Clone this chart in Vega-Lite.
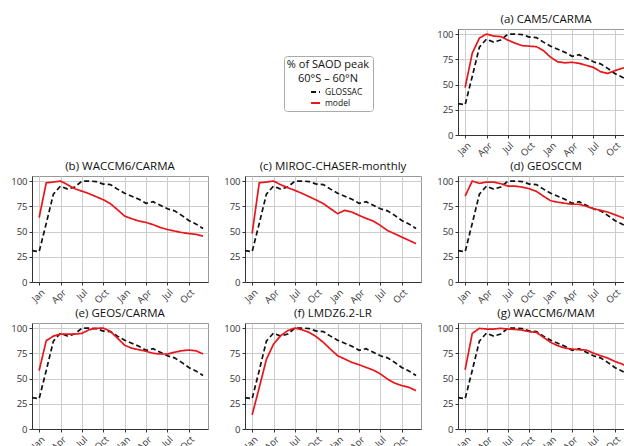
{
"$schema":"https://vega.github.io/schema/vega-lite/v6.json",
"padding":{"left":10,"top":13,"right":0,"bottom":0},
"columns":3,
"spacing":{"row":1,"column":14},
"data":{"values":[
{"panel":"all","series":"GLOSSAC","m":-1,"v":31},{"panel":"all","series":"GLOSSAC","m":0,"v":30},{"panel":"all","series":"GLOSSAC","m":1,"v":58},{"panel":"all","series":"GLOSSAC","m":2,"v":87},{"panel":"all","series":"GLOSSAC","m":3,"v":95},{"panel":"all","series":"GLOSSAC","m":4,"v":92},{"panel":"all","series":"GLOSSAC","m":5,"v":94},{"panel":"all","series":"GLOSSAC","m":6,"v":100},{"panel":"all","series":"GLOSSAC","m":7,"v":100},{"panel":"all","series":"GLOSSAC","m":8,"v":99.5},{"panel":"all","series":"GLOSSAC","m":9,"v":97},{"panel":"all","series":"GLOSSAC","m":10,"v":96.5},{"panel":"all","series":"GLOSSAC","m":11,"v":92},{"panel":"all","series":"GLOSSAC","m":12,"v":88},{"panel":"all","series":"GLOSSAC","m":13,"v":85},{"panel":"all","series":"GLOSSAC","m":14,"v":82},{"panel":"all","series":"GLOSSAC","m":15,"v":78},{"panel":"all","series":"GLOSSAC","m":16,"v":79.5},{"panel":"all","series":"GLOSSAC","m":17,"v":76},{"panel":"all","series":"GLOSSAC","m":18,"v":72.5},{"panel":"all","series":"GLOSSAC","m":19,"v":70.5},{"panel":"all","series":"GLOSSAC","m":20,"v":66},{"panel":"all","series":"GLOSSAC","m":21,"v":61},{"panel":"all","series":"GLOSSAC","m":22,"v":57.5},{"panel":"all","series":"GLOSSAC","m":23,"v":53},
{"panel":"a","series":"model","m":0,"v":47},{"panel":"a","series":"model","m":1,"v":81},{"panel":"a","series":"model","m":2,"v":96},{"panel":"a","series":"model","m":3,"v":100},{"panel":"a","series":"model","m":4,"v":98},{"panel":"a","series":"model","m":5,"v":97.5},{"panel":"a","series":"model","m":6,"v":94},{"panel":"a","series":"model","m":7,"v":91},{"panel":"a","series":"model","m":8,"v":88.5},{"panel":"a","series":"model","m":9,"v":88},{"panel":"a","series":"model","m":10,"v":87.5},{"panel":"a","series":"model","m":11,"v":83.5},{"panel":"a","series":"model","m":12,"v":77},{"panel":"a","series":"model","m":13,"v":72.5},{"panel":"a","series":"model","m":14,"v":71.5},{"panel":"a","series":"model","m":15,"v":72},{"panel":"a","series":"model","m":16,"v":71},{"panel":"a","series":"model","m":17,"v":69},{"panel":"a","series":"model","m":18,"v":67},{"panel":"a","series":"model","m":19,"v":62.7},{"panel":"a","series":"model","m":20,"v":61},{"panel":"a","series":"model","m":21,"v":63.7},{"panel":"a","series":"model","m":22,"v":66},{"panel":"a","series":"model","m":23,"v":67.7},
{"panel":"b","series":"model","m":0,"v":63.7},{"panel":"b","series":"model","m":1,"v":98.3},{"panel":"b","series":"model","m":2,"v":99},{"panel":"b","series":"model","m":3,"v":100},{"panel":"b","series":"model","m":4,"v":96.4},{"panel":"b","series":"model","m":5,"v":92.4},{"panel":"b","series":"model","m":6,"v":90},{"panel":"b","series":"model","m":7,"v":87.5},{"panel":"b","series":"model","m":8,"v":84.5},{"panel":"b","series":"model","m":9,"v":81.5},{"panel":"b","series":"model","m":10,"v":77.6},{"panel":"b","series":"model","m":11,"v":71.6},{"panel":"b","series":"model","m":12,"v":65.3},{"panel":"b","series":"model","m":13,"v":62.7},{"panel":"b","series":"model","m":14,"v":60.4},{"panel":"b","series":"model","m":15,"v":59},{"panel":"b","series":"model","m":16,"v":56.8},{"panel":"b","series":"model","m":17,"v":54},{"panel":"b","series":"model","m":18,"v":52},{"panel":"b","series":"model","m":19,"v":50.5},{"panel":"b","series":"model","m":20,"v":49},{"panel":"b","series":"model","m":21,"v":48},{"panel":"b","series":"model","m":22,"v":47.2},{"panel":"b","series":"model","m":23,"v":45.5},
{"panel":"c","series":"model","m":0,"v":48},{"panel":"c","series":"model","m":1,"v":98.3},{"panel":"c","series":"model","m":2,"v":99},{"panel":"c","series":"model","m":3,"v":100},{"panel":"c","series":"model","m":4,"v":96.4},{"panel":"c","series":"model","m":5,"v":93.4},{"panel":"c","series":"model","m":6,"v":90.8},{"panel":"c","series":"model","m":7,"v":87.8},{"panel":"c","series":"model","m":8,"v":84.5},{"panel":"c","series":"model","m":9,"v":81.2},{"panel":"c","series":"model","m":10,"v":77.6},{"panel":"c","series":"model","m":11,"v":72.6},{"panel":"c","series":"model","m":12,"v":67.7},{"panel":"c","series":"model","m":13,"v":71},{"panel":"c","series":"model","m":14,"v":69.3},{"panel":"c","series":"model","m":15,"v":66},{"panel":"c","series":"model","m":16,"v":63},{"panel":"c","series":"model","m":17,"v":60.4},{"panel":"c","series":"model","m":18,"v":56},{"panel":"c","series":"model","m":19,"v":51},{"panel":"c","series":"model","m":20,"v":47.8},{"panel":"c","series":"model","m":21,"v":44.5},{"panel":"c","series":"model","m":22,"v":41.3},{"panel":"c","series":"model","m":23,"v":38},
{"panel":"d","series":"model","m":0,"v":85},{"panel":"d","series":"model","m":1,"v":100},{"panel":"d","series":"model","m":2,"v":97.7},{"panel":"d","series":"model","m":3,"v":99},{"panel":"d","series":"model","m":4,"v":99},{"panel":"d","series":"model","m":5,"v":97.4},{"panel":"d","series":"model","m":6,"v":95},{"panel":"d","series":"model","m":7,"v":95},{"panel":"d","series":"model","m":8,"v":94},{"panel":"d","series":"model","m":9,"v":92.4},{"panel":"d","series":"model","m":10,"v":89.8},{"panel":"d","series":"model","m":11,"v":85},{"panel":"d","series":"model","m":12,"v":80.5},{"panel":"d","series":"model","m":13,"v":79},{"panel":"d","series":"model","m":14,"v":78},{"panel":"d","series":"model","m":15,"v":77},{"panel":"d","series":"model","m":16,"v":77},{"panel":"d","series":"model","m":17,"v":75},{"panel":"d","series":"model","m":18,"v":72.6},{"panel":"d","series":"model","m":19,"v":71},{"panel":"d","series":"model","m":20,"v":69.3},{"panel":"d","series":"model","m":21,"v":66.7},{"panel":"d","series":"model","m":22,"v":64},{"panel":"d","series":"model","m":23,"v":61},
{"panel":"e","series":"model","m":0,"v":57.8},{"panel":"e","series":"model","m":1,"v":87.5},{"panel":"e","series":"model","m":2,"v":92},{"panel":"e","series":"model","m":3,"v":94},{"panel":"e","series":"model","m":4,"v":94},{"panel":"e","series":"model","m":5,"v":94},{"panel":"e","series":"model","m":6,"v":94.7},{"panel":"e","series":"model","m":7,"v":98.3},{"panel":"e","series":"model","m":8,"v":99.7},{"panel":"e","series":"model","m":9,"v":100},{"panel":"e","series":"model","m":10,"v":96.7},{"panel":"e","series":"model","m":11,"v":90},{"panel":"e","series":"model","m":12,"v":83},{"panel":"e","series":"model","m":13,"v":80},{"panel":"e","series":"model","m":14,"v":78.5},{"panel":"e","series":"model","m":15,"v":77},{"panel":"e","series":"model","m":16,"v":75},{"panel":"e","series":"model","m":17,"v":74.3},{"panel":"e","series":"model","m":18,"v":74.3},{"panel":"e","series":"model","m":19,"v":76},{"panel":"e","series":"model","m":20,"v":77.5},{"panel":"e","series":"model","m":21,"v":78.2},{"panel":"e","series":"model","m":22,"v":77.5},{"panel":"e","series":"model","m":23,"v":74.3},
{"panel":"f","series":"model","m":0,"v":14},{"panel":"f","series":"model","m":1,"v":41},{"panel":"f","series":"model","m":2,"v":69},{"panel":"f","series":"model","m":3,"v":84},{"panel":"f","series":"model","m":4,"v":92.4},{"panel":"f","series":"model","m":5,"v":97.4},{"panel":"f","series":"model","m":6,"v":100},{"panel":"f","series":"model","m":7,"v":98.3},{"panel":"f","series":"model","m":8,"v":95.7},{"panel":"f","series":"model","m":9,"v":91.4},{"panel":"f","series":"model","m":10,"v":85.8},{"panel":"f","series":"model","m":11,"v":79},{"panel":"f","series":"model","m":12,"v":72.6},{"panel":"f","series":"model","m":13,"v":69.3},{"panel":"f","series":"model","m":14,"v":66},{"panel":"f","series":"model","m":15,"v":63.7},{"panel":"f","series":"model","m":16,"v":61},{"panel":"f","series":"model","m":17,"v":58.4},{"panel":"f","series":"model","m":18,"v":54.5},{"panel":"f","series":"model","m":19,"v":49.5},{"panel":"f","series":"model","m":20,"v":45.5},{"panel":"f","series":"model","m":21,"v":43},{"panel":"f","series":"model","m":22,"v":41.3},{"panel":"f","series":"model","m":23,"v":38},
{"panel":"g","series":"model","m":0,"v":58.7},{"panel":"g","series":"model","m":1,"v":94.7},{"panel":"g","series":"model","m":2,"v":99.7},{"panel":"g","series":"model","m":3,"v":99},{"panel":"g","series":"model","m":4,"v":99},{"panel":"g","series":"model","m":5,"v":99.7},{"panel":"g","series":"model","m":6,"v":99},{"panel":"g","series":"model","m":7,"v":98.7},{"panel":"g","series":"model","m":8,"v":98},{"panel":"g","series":"model","m":9,"v":96.4},{"panel":"g","series":"model","m":10,"v":95.7},{"panel":"g","series":"model","m":11,"v":90.8},{"panel":"g","series":"model","m":12,"v":85.8},{"panel":"g","series":"model","m":13,"v":82.5},{"panel":"g","series":"model","m":14,"v":80.2},{"panel":"g","series":"model","m":15,"v":79.2},{"panel":"g","series":"model","m":16,"v":78.5},{"panel":"g","series":"model","m":17,"v":78.2},{"panel":"g","series":"model","m":18,"v":75.2},{"panel":"g","series":"model","m":19,"v":72.6},{"panel":"g","series":"model","m":20,"v":70.3},{"panel":"g","series":"model","m":21,"v":67},{"panel":"g","series":"model","m":22,"v":64.4},{"panel":"g","series":"model","m":23,"v":61}
]},
"concat":[
{"width":176,"height":106,"view":{"stroke":null},"data":{"values":[]},"mark":"point"},
{"width":176,"height":106,"view":{"stroke":null},"data":{"values":[]},"mark":"line",
 "encoding":{
  "x":{"field":"m","type":"quantitative","axis":null},
  "y":{"field":"v","type":"quantitative","axis":null},
  "color":{"field":"series","type":"nominal","scale":{"domain":["GLOSSAC","model"],"range":["#111111","#e8161b"]},
   "legend":{"title":["% of SAOD peak","60°S – 60°N"],"orient":"none","legendX":252,"legendY":27,"symbolType":"stroke","symbolSize":80,"symbolStrokeWidth":1.8,"symbolOffset":16,"titleAnchor":"middle","titleAlign":"center","titleFontSize":11,"titleFontWeight":"normal","titleLineHeight":13.5,"titlePadding":3,"labelFontSize":8.5,"rowPadding":1,"padding":3,"strokeColor":"#aaaaaa","cornerRadius":3,"fillColor":"white","offset":0}},
  "strokeDash":{"field":"series","type":"nominal","scale":{"domain":["GLOSSAC","model"],"range":[[5,3],[1,0]]},
   "legend":{"title":["% of SAOD peak","60°S – 60°N"],"orient":"none","legendX":252,"legendY":27,"symbolType":"stroke","symbolSize":80,"symbolStrokeWidth":1.8,"symbolOffset":16,"titleAnchor":"middle","titleAlign":"center","titleFontSize":11,"titleFontWeight":"normal","titleLineHeight":13.5,"titlePadding":3,"labelFontSize":8.5,"rowPadding":1,"padding":3,"strokeColor":"#aaaaaa","cornerRadius":3,"fillColor":"white","offset":0}}
 }},
{"title":"(a) CAM5/CARMA","width":176,"height":106,"transform":[{"filter":"datum.series=='GLOSSAC' || datum.panel=='a'"}],"mark":{"type":"line","strokeWidth":1.7},
 "encoding":{"x":{"field":"m","type":"quantitative","scale":{"domain":[-1,23.7],"nice":false,"zero":false},"axis":{"values":[0,3,6,9,12,15,18,21],"labelExpr":"['Jan','Apr','Jul','Oct'][round(datum.value/3)%4]","labelAngle":-45}},
  "y":{"field":"v","type":"quantitative","scale":{"domain":[0,105],"nice":false},"axis":{"values":[0,25,50,75,100]}},
  "color":{"field":"series","type":"nominal","scale":{"domain":["GLOSSAC","model"],"range":["#111111","#e8161b"]},"legend":null},
  "strokeDash":{"field":"series","type":"nominal","scale":{"domain":["GLOSSAC","model"],"range":[[5,3],[1,0]]},"legend":null}}},
{"title":"(b) WACCM6/CARMA","width":176,"height":106,"transform":[{"filter":"datum.series=='GLOSSAC' || datum.panel=='b'"}],"mark":{"type":"line","strokeWidth":1.7},
 "encoding":{"x":{"field":"m","type":"quantitative","scale":{"domain":[-1,23.7],"nice":false,"zero":false},"axis":{"values":[0,3,6,9,12,15,18,21],"labelExpr":"['Jan','Apr','Jul','Oct'][round(datum.value/3)%4]","labelAngle":-45}},
  "y":{"field":"v","type":"quantitative","scale":{"domain":[0,105],"nice":false},"axis":{"values":[0,25,50,75,100]}},
  "color":{"field":"series","type":"nominal","scale":{"domain":["GLOSSAC","model"],"range":["#111111","#e8161b"]},"legend":null},
  "strokeDash":{"field":"series","type":"nominal","scale":{"domain":["GLOSSAC","model"],"range":[[5,3],[1,0]]},"legend":null}}},
{"title":"(c) MIROC-CHASER-monthly","width":176,"height":106,"transform":[{"filter":"datum.series=='GLOSSAC' || datum.panel=='c'"}],"mark":{"type":"line","strokeWidth":1.7},
 "encoding":{"x":{"field":"m","type":"quantitative","scale":{"domain":[-1,23.7],"nice":false,"zero":false},"axis":{"values":[0,3,6,9,12,15,18,21],"labelExpr":"['Jan','Apr','Jul','Oct'][round(datum.value/3)%4]","labelAngle":-45}},
  "y":{"field":"v","type":"quantitative","scale":{"domain":[0,105],"nice":false},"axis":{"values":[0,25,50,75,100]}},
  "color":{"field":"series","type":"nominal","scale":{"domain":["GLOSSAC","model"],"range":["#111111","#e8161b"]},"legend":null},
  "strokeDash":{"field":"series","type":"nominal","scale":{"domain":["GLOSSAC","model"],"range":[[5,3],[1,0]]},"legend":null}}},
{"title":"(d) GEOSCCM","width":176,"height":106,"transform":[{"filter":"datum.series=='GLOSSAC' || datum.panel=='d'"}],"mark":{"type":"line","strokeWidth":1.7},
 "encoding":{"x":{"field":"m","type":"quantitative","scale":{"domain":[-1,23.7],"nice":false,"zero":false},"axis":{"values":[0,3,6,9,12,15,18,21],"labelExpr":"['Jan','Apr','Jul','Oct'][round(datum.value/3)%4]","labelAngle":-45}},
  "y":{"field":"v","type":"quantitative","scale":{"domain":[0,105],"nice":false},"axis":{"values":[0,25,50,75,100]}},
  "color":{"field":"series","type":"nominal","scale":{"domain":["GLOSSAC","model"],"range":["#111111","#e8161b"]},"legend":null},
  "strokeDash":{"field":"series","type":"nominal","scale":{"domain":["GLOSSAC","model"],"range":[[5,3],[1,0]]},"legend":null}}},
{"title":"(e) GEOS/CARMA","width":176,"height":106,"transform":[{"filter":"datum.series=='GLOSSAC' || datum.panel=='e'"}],"mark":{"type":"line","strokeWidth":1.7},
 "encoding":{"x":{"field":"m","type":"quantitative","scale":{"domain":[-1,23.7],"nice":false,"zero":false},"axis":{"values":[0,3,6,9,12,15,18,21],"labelExpr":"['Jan','Apr','Jul','Oct'][round(datum.value/3)%4]","labelAngle":-45}},
  "y":{"field":"v","type":"quantitative","scale":{"domain":[0,105],"nice":false},"axis":{"values":[0,25,50,75,100]}},
  "color":{"field":"series","type":"nominal","scale":{"domain":["GLOSSAC","model"],"range":["#111111","#e8161b"]},"legend":null},
  "strokeDash":{"field":"series","type":"nominal","scale":{"domain":["GLOSSAC","model"],"range":[[5,3],[1,0]]},"legend":null}}},
{"title":"(f) LMDZ6.2-LR","width":176,"height":106,"transform":[{"filter":"datum.series=='GLOSSAC' || datum.panel=='f'"}],"mark":{"type":"line","strokeWidth":1.7},
 "encoding":{"x":{"field":"m","type":"quantitative","scale":{"domain":[-1,23.7],"nice":false,"zero":false},"axis":{"values":[0,3,6,9,12,15,18,21],"labelExpr":"['Jan','Apr','Jul','Oct'][round(datum.value/3)%4]","labelAngle":-45}},
  "y":{"field":"v","type":"quantitative","scale":{"domain":[0,105],"nice":false},"axis":{"values":[0,25,50,75,100]}},
  "color":{"field":"series","type":"nominal","scale":{"domain":["GLOSSAC","model"],"range":["#111111","#e8161b"]},"legend":null},
  "strokeDash":{"field":"series","type":"nominal","scale":{"domain":["GLOSSAC","model"],"range":[[5,3],[1,0]]},"legend":null}}},
{"title":"(g) WACCM6/MAM","width":176,"height":106,"transform":[{"filter":"datum.series=='GLOSSAC' || datum.panel=='g'"}],"mark":{"type":"line","strokeWidth":1.7},
 "encoding":{"x":{"field":"m","type":"quantitative","scale":{"domain":[-1,23.7],"nice":false,"zero":false},"axis":{"values":[0,3,6,9,12,15,18,21],"labelExpr":"['Jan','Apr','Jul','Oct'][round(datum.value/3)%4]","labelAngle":-45}},
  "y":{"field":"v","type":"quantitative","scale":{"domain":[0,105],"nice":false},"axis":{"values":[0,25,50,75,100]}},
  "color":{"field":"series","type":"nominal","scale":{"domain":["GLOSSAC","model"],"range":["#111111","#e8161b"]},"legend":null},
  "strokeDash":{"field":"series","type":"nominal","scale":{"domain":["GLOSSAC","model"],"range":[[5,3],[1,0]]},"legend":null}}}
],
"config":{
 "font":"Open Sans",
 "view":{"stroke":"#999999"},
 "axis":{"title":null,"labelFont":"Open Sans","labelFontSize":9.5,"labelColor":"#333333","domainColor":"#333333","tickColor":"#333333","tickSize":3,"gridColor":"#cccccc","labelPadding":2},
 "title":{"font":"Open Sans","fontSize":11.5,"fontWeight":"normal","color":"#111111","offset":4},
 "legend":{"labelFont":"Open Sans","titleFont":"Open Sans","labelColor":"#111111","titleColor":"#111111"}
}
}
